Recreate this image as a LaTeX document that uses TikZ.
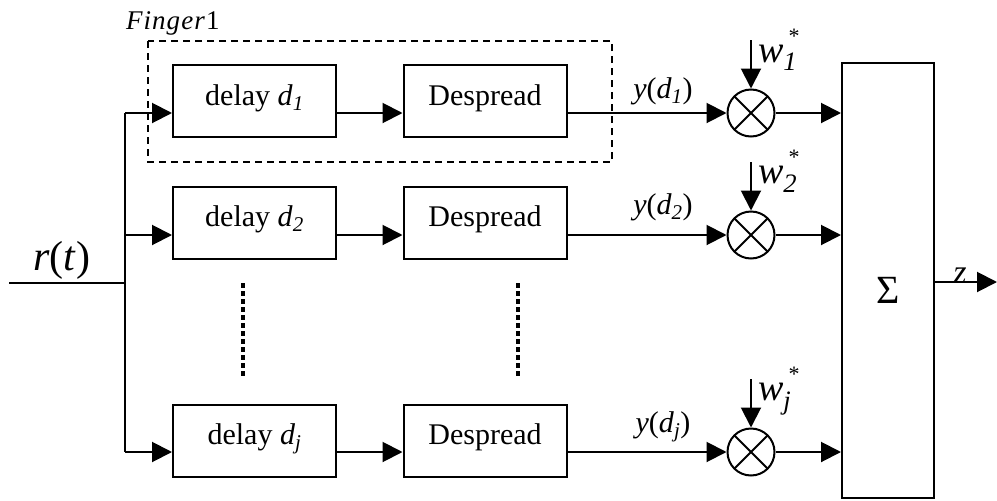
\documentclass[tikz,border=0pt]{standalone}
\usepackage{fontspec}
\setmainfont{Liberation Serif}
\usetikzlibrary{arrows.meta}
\newcommand{\subit}[1]{\textsubscript{\textit{#1}}}
\begin{document}
\begin{tikzpicture}[x=1pt,y=-1pt,
  line width=2pt,
  arr/.style={-{Triangle[length=20pt,width=20pt]}},
  blockbox/.style={draw,rectangle,inner sep=0pt,minimum width=163pt,
    text height=40pt,text depth=32pt,font=\fontsize{30}{30}\selectfont},
  mult/.style={draw,circle,minimum size=47pt,inner sep=0pt,
    path picture={\draw[line width=2pt] (path picture bounding box.north east) -- (path picture bounding box.south west)
      (path picture bounding box.north west) -- (path picture bounding box.south east);}},
  lbl/.style={anchor=base,inner sep=0pt,font=\fontsize{30}{30}\selectfont},
  wlbl/.style={anchor=base west,inner sep=0pt,font=\fontsize{38}{38}\selectfont},
  star/.style={inner sep=0pt,font=\fontsize{22}{22}\selectfont},
  dotline/.style={line width=4.5pt,dash pattern=on 5pt off 3pt},
  fingerbox/.style={dashed,line width=2pt,dash pattern=on 7pt off 5pt}
]
\useasboundingbox (0,0) rectangle (997,501);

% branch points
\coordinate (br1) at (125,113);
\coordinate (br2) at (125,235);
\coordinate (brj) at (125,452);
\coordinate (in) at (9,283);
\coordinate (jn) at (125,283);

% delay blocks
\node[blockbox] (d1) at (254.5,101) {delay \textit{d}\subit{1}};
\node[blockbox] (d2) at (254.5,222.5) {delay \textit{d}\subit{2}};
\node[blockbox] (dj) at (254.5,440.5) {delay \textit{d}\subit{j}};

% despread blocks
\node[blockbox] (s1) at (485,101) {Despread};
\node[blockbox] (s2) at (485,222.5) {Despread};
\node[blockbox] (sj) at (485,440.5) {Despread};

% multipliers
\node[mult] (m1) at (751,113) {};
\node[mult] (m2) at (751,235) {};
\node[mult] (mj) at (751,452) {};

% sum block
\node[draw,rectangle,inner sep=0pt,minimum width=92pt,text height=240pt,text depth=195pt,
  font=\fontsize{40}{40}\selectfont] (sig) at (888,280.5) {Σ};

% finger dashed box
\draw[fingerbox] (148,41) rectangle (612,162);
\node[anchor=base west,inner sep=0pt,font=\fontsize{27}{27}\selectfont] (fl) at (125,29)
  {\addfontfeature{LetterSpace=4}\textit{Finger}1};

% input
\draw (in) -- (jn);
\draw (br1) -- (brj);
\node[anchor=base,inner sep=0pt,font=\fontsize{42}{42}\selectfont] (rt) at (62,270) {\textit{r}(\textit{t})};

% row connectors
\foreach \r in {1,2,j}{
  \draw[arr] (br\r) -- (br\r -| d\r.west);
  \draw[arr] (br\r -| d\r.east) -- (br\r -| s\r.west);
  \draw[arr] (br\r -| s\r.east) -- (m\r.west);
  \draw[arr] (m\r.east) -- (m\r -| sig.west);
}

% weights
\coordinate (wt1) at (751,40);
\coordinate (wt2) at (751,162);
\coordinate (wtj) at (751,379);
\draw[arr] (wt1) -- (m1.north);
\draw[arr] (wt2) -- (m2.north);
\draw[arr] (wtj) -- (mj.north);
\node[wlbl] (w1) at (757,62) {\textit{w}\subit{1}};
\node[wlbl] (w2) at (757,183) {\textit{w}\subit{2}};
\node[wlbl] (wj) at (757,400) {\textit{w}\subit{j}};
\node[star] (a1) at (794,36) {*};
\node[star] (a2) at (794,157) {*};
\node[star] (aj) at (794,374) {*};

% y labels
\node[lbl] (y1) at (663,98) {\textit{y}(\textit{d}\subit{1})};
\node[lbl] (y2) at (663,214) {\textit{y}(\textit{d}\subit{2})};
\node[lbl] (yj) at (663,432) {\textit{y}(\textit{d}\subit{j})};

% dotted continuation
\coordinate (da) at (243,283);
\coordinate (db) at (243,376);
\coordinate (dc) at (518,283);
\coordinate (dd) at (518,376);
\draw[dotline] (da) -- (db);
\draw[dotline] (dc) -- (dd);

% output
\coordinate (out) at (997,282);
\draw[arr] (sig.east |- out) -- (out);
\node[anchor=base,inner sep=0pt,font=\fontsize{34}{34}\selectfont] (z) at (960,283) {\textit{z}};
\end{tikzpicture}
\end{document}
